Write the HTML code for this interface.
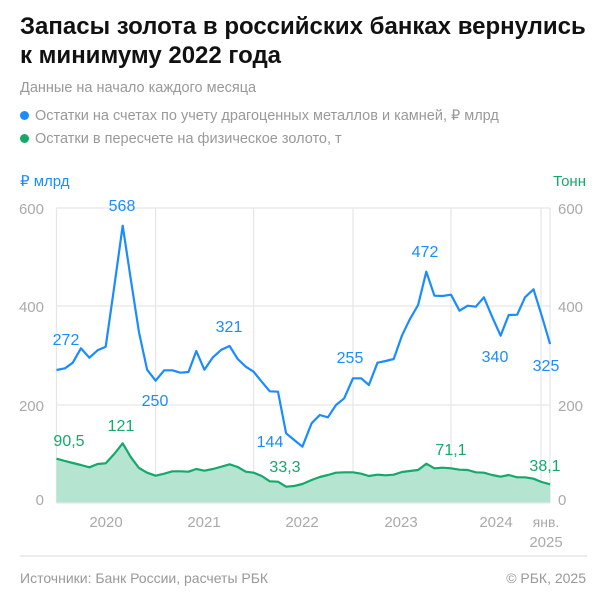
<!DOCTYPE html><html><head><meta charset="utf-8"><style>
body{margin:0;width:604px;height:600px;background:#fff;font-family:"Liberation Sans",sans-serif;position:relative;overflow:hidden}
.t{position:absolute;left:20px;top:12px;font-size:24px;font-weight:bold;line-height:29px;color:#111;letter-spacing:0px}
.g{position:absolute;left:20px;font-size:14.5px;color:#999}
.dot{display:inline-block;width:9px;height:9px;border-radius:50%;margin-right:6px;vertical-align:0}
</style></head><body>
<div class="t">Запасы золота в российских банках вернулись<br>к минимуму 2022 года</div>
<div class="g" style="top:80px">Данные на начало каждого месяца</div>
<div class="g" style="top:108px"><span class="dot" style="background:#1a8cff"></span>Остатки на счетах по учету драгоценных металлов и камней, ₽ млрд</div>
<div class="g" style="top:131px"><span class="dot" style="background:#14a86b"></span>Остатки в пересчете на физическое золото, т</div>
<svg width="604" height="600" style="position:absolute;left:0;top:0" font-family="Liberation Sans, sans-serif">
<g stroke="#e6e6e6" stroke-width="1.2">
<line x1="56.5" y1="208" x2="550" y2="208"/><line x1="56.5" y1="306" x2="550" y2="306"/><line x1="56.5" y1="405" x2="550" y2="405"/>
<line x1="56.5" y1="208" x2="56.5" y2="503"/><line x1="155.6" y1="208" x2="155.6" y2="503"/><line x1="253.6" y1="208" x2="253.6" y2="503"/><line x1="353" y1="208" x2="353" y2="503"/><line x1="451" y1="208" x2="451" y2="503"/><line x1="541" y1="208" x2="541" y2="503"/><line x1="550" y1="208" x2="550" y2="503"/>
</g>
<g font-size="15" fill="#aaa">
<text x="44" y="214" text-anchor="end">600</text><text x="44" y="312" text-anchor="end">400</text><text x="44" y="411" text-anchor="end">200</text><text x="44" y="505" text-anchor="end">0</text>
<text x="558" y="214">600</text><text x="558" y="312">400</text><text x="558" y="411">200</text><text x="558" y="505">0</text>
<text x="106" y="527" text-anchor="middle">2020</text><text x="204" y="527" text-anchor="middle">2021</text><text x="302" y="527" text-anchor="middle">2022</text><text x="401" y="527" text-anchor="middle">2023</text><text x="496" y="527" text-anchor="middle">2024</text>
<text x="546" y="527" text-anchor="middle" font-size="14">янв.</text><text x="546" y="547" text-anchor="middle">2025</text>
</g>
<text x="20" y="186" font-size="15" fill="#1a8cff">₽ млрд</text>
<text x="586" y="186" font-size="15" fill="#14a86b" text-anchor="end">Тонн</text>
<polygon fill="#b5e4d0" points="56.5,503 56.5,458.7 65,461 72.8,463 80.9,465 89.4,467.3 97.6,464 105.7,463.3 114.2,454 122.7,443.3 130.9,457.3 139,468 147.1,472.7 155.6,475.7 164.2,473.7 172.3,471.3 180.4,471.3 188.5,471.7 196.3,469 204.4,470.7 212.9,469 221.4,466.7 229.6,464.3 237.7,467 245.8,471.7 253.6,472.7 261.7,476 269.8,481.3 278,481.7 286.1,486.7 294.2,486 302.4,484 311.6,480 319.8,477 327.9,475 336,472.7 344.2,472.3 353,472.3 361.2,473.7 368.9,476 377.5,474.7 385.6,475.3 393.7,474.7 401.9,472 409.6,471 418.1,470 426.3,463.7 434.4,468.3 442.5,467.7 451,468.3 459.5,469.7 467.7,470 475.8,472.3 483.9,472.7 492.1,475 500.6,476.7 508.7,475 517.2,477.3 525,477.3 533.5,478.7 541.6,482 550.1,484.3 550.1,503"/>
<polyline fill="none" stroke="#14a86b" stroke-width="2.2" stroke-linejoin="round" points="56.5,458.7 65,461 72.8,463 80.9,465 89.4,467.3 97.6,464 105.7,463.3 114.2,454 122.7,443.3 130.9,457.3 139,468 147.1,472.7 155.6,475.7 164.2,473.7 172.3,471.3 180.4,471.3 188.5,471.7 196.3,469 204.4,470.7 212.9,469 221.4,466.7 229.6,464.3 237.7,467 245.8,471.7 253.6,472.7 261.7,476 269.8,481.3 278,481.7 286.1,486.7 294.2,486 302.4,484 311.6,480 319.8,477 327.9,475 336,472.7 344.2,472.3 353,472.3 361.2,473.7 368.9,476 377.5,474.7 385.6,475.3 393.7,474.7 401.9,472 409.6,471 418.1,470 426.3,463.7 434.4,468.3 442.5,467.7 451,468.3 459.5,469.7 467.7,470 475.8,472.3 483.9,472.7 492.1,475 500.6,476.7 508.7,475 517.2,477.3 525,477.3 533.5,478.7 541.6,482 550.1,484.3"/>
<line x1="56.5" y1="503" x2="550" y2="503" stroke="#e6e6e6" stroke-width="1.2"/>
<polyline fill="none" stroke="#1a8cff" stroke-width="2.2" stroke-linejoin="round" points="56.5,370 65,368.3 72.8,362.7 80.9,348.3 89.4,357.7 97.6,350.3 105.7,346.7 114.2,287 122.7,225.7 130.9,280 139,332.3 147.1,369.7 155.6,380.7 164.2,370.3 172.3,370.3 180.4,372.7 188.5,372 196.3,351 204.4,369.7 212.9,357.3 221.4,349.7 229.6,346 237.7,359 245.8,366.7 253.6,371.7 261.7,381.7 269.8,391.3 278,391.7 286.1,433.3 294.2,440 302.4,446.7 311.6,423.3 319.8,415 327.9,417.3 336,405 344.2,398.3 353,378.3 361.2,378.3 368.9,385 377.5,362.7 385.6,361 393.7,359 401.9,335.7 409.6,319.7 418.1,305 426.3,271.7 434.4,295.7 442.5,296 451,294.7 459.5,310.7 467.7,305.7 475.8,306.7 483.9,297.3 492.1,316.7 500.6,335.7 508.7,315 517.2,314.7 525,297.3 533.5,289.3 541.6,315.3 550.1,344"/>
<g font-size="16" fill="#1a8cff" text-anchor="middle">
<text x="66" y="345">272</text><text x="122" y="211">568</text><text x="155" y="406">250</text><text x="229" y="332">321</text><text x="270" y="447">144</text><text x="350" y="363">255</text><text x="425" y="257">472</text><text x="495" y="362">340</text><text x="546" y="371">325</text>
</g>
<g font-size="16" fill="#14a86b" text-anchor="middle">
<text x="69" y="446">90,5</text><text x="121" y="431">121</text><text x="285" y="472">33,3</text><text x="451" y="455">71,1</text><text x="545" y="471">38,1</text>
</g>
<line x1="20" y1="556" x2="587" y2="556" stroke="#e6e6e6" stroke-width="1.5"/>
<text x="20" y="583" font-size="14" fill="#999">Источники: Банк России, расчеты РБК</text>
<text x="586" y="583" font-size="14" fill="#999" text-anchor="end">© РБК, 2025</text>
</svg>
</body></html>
